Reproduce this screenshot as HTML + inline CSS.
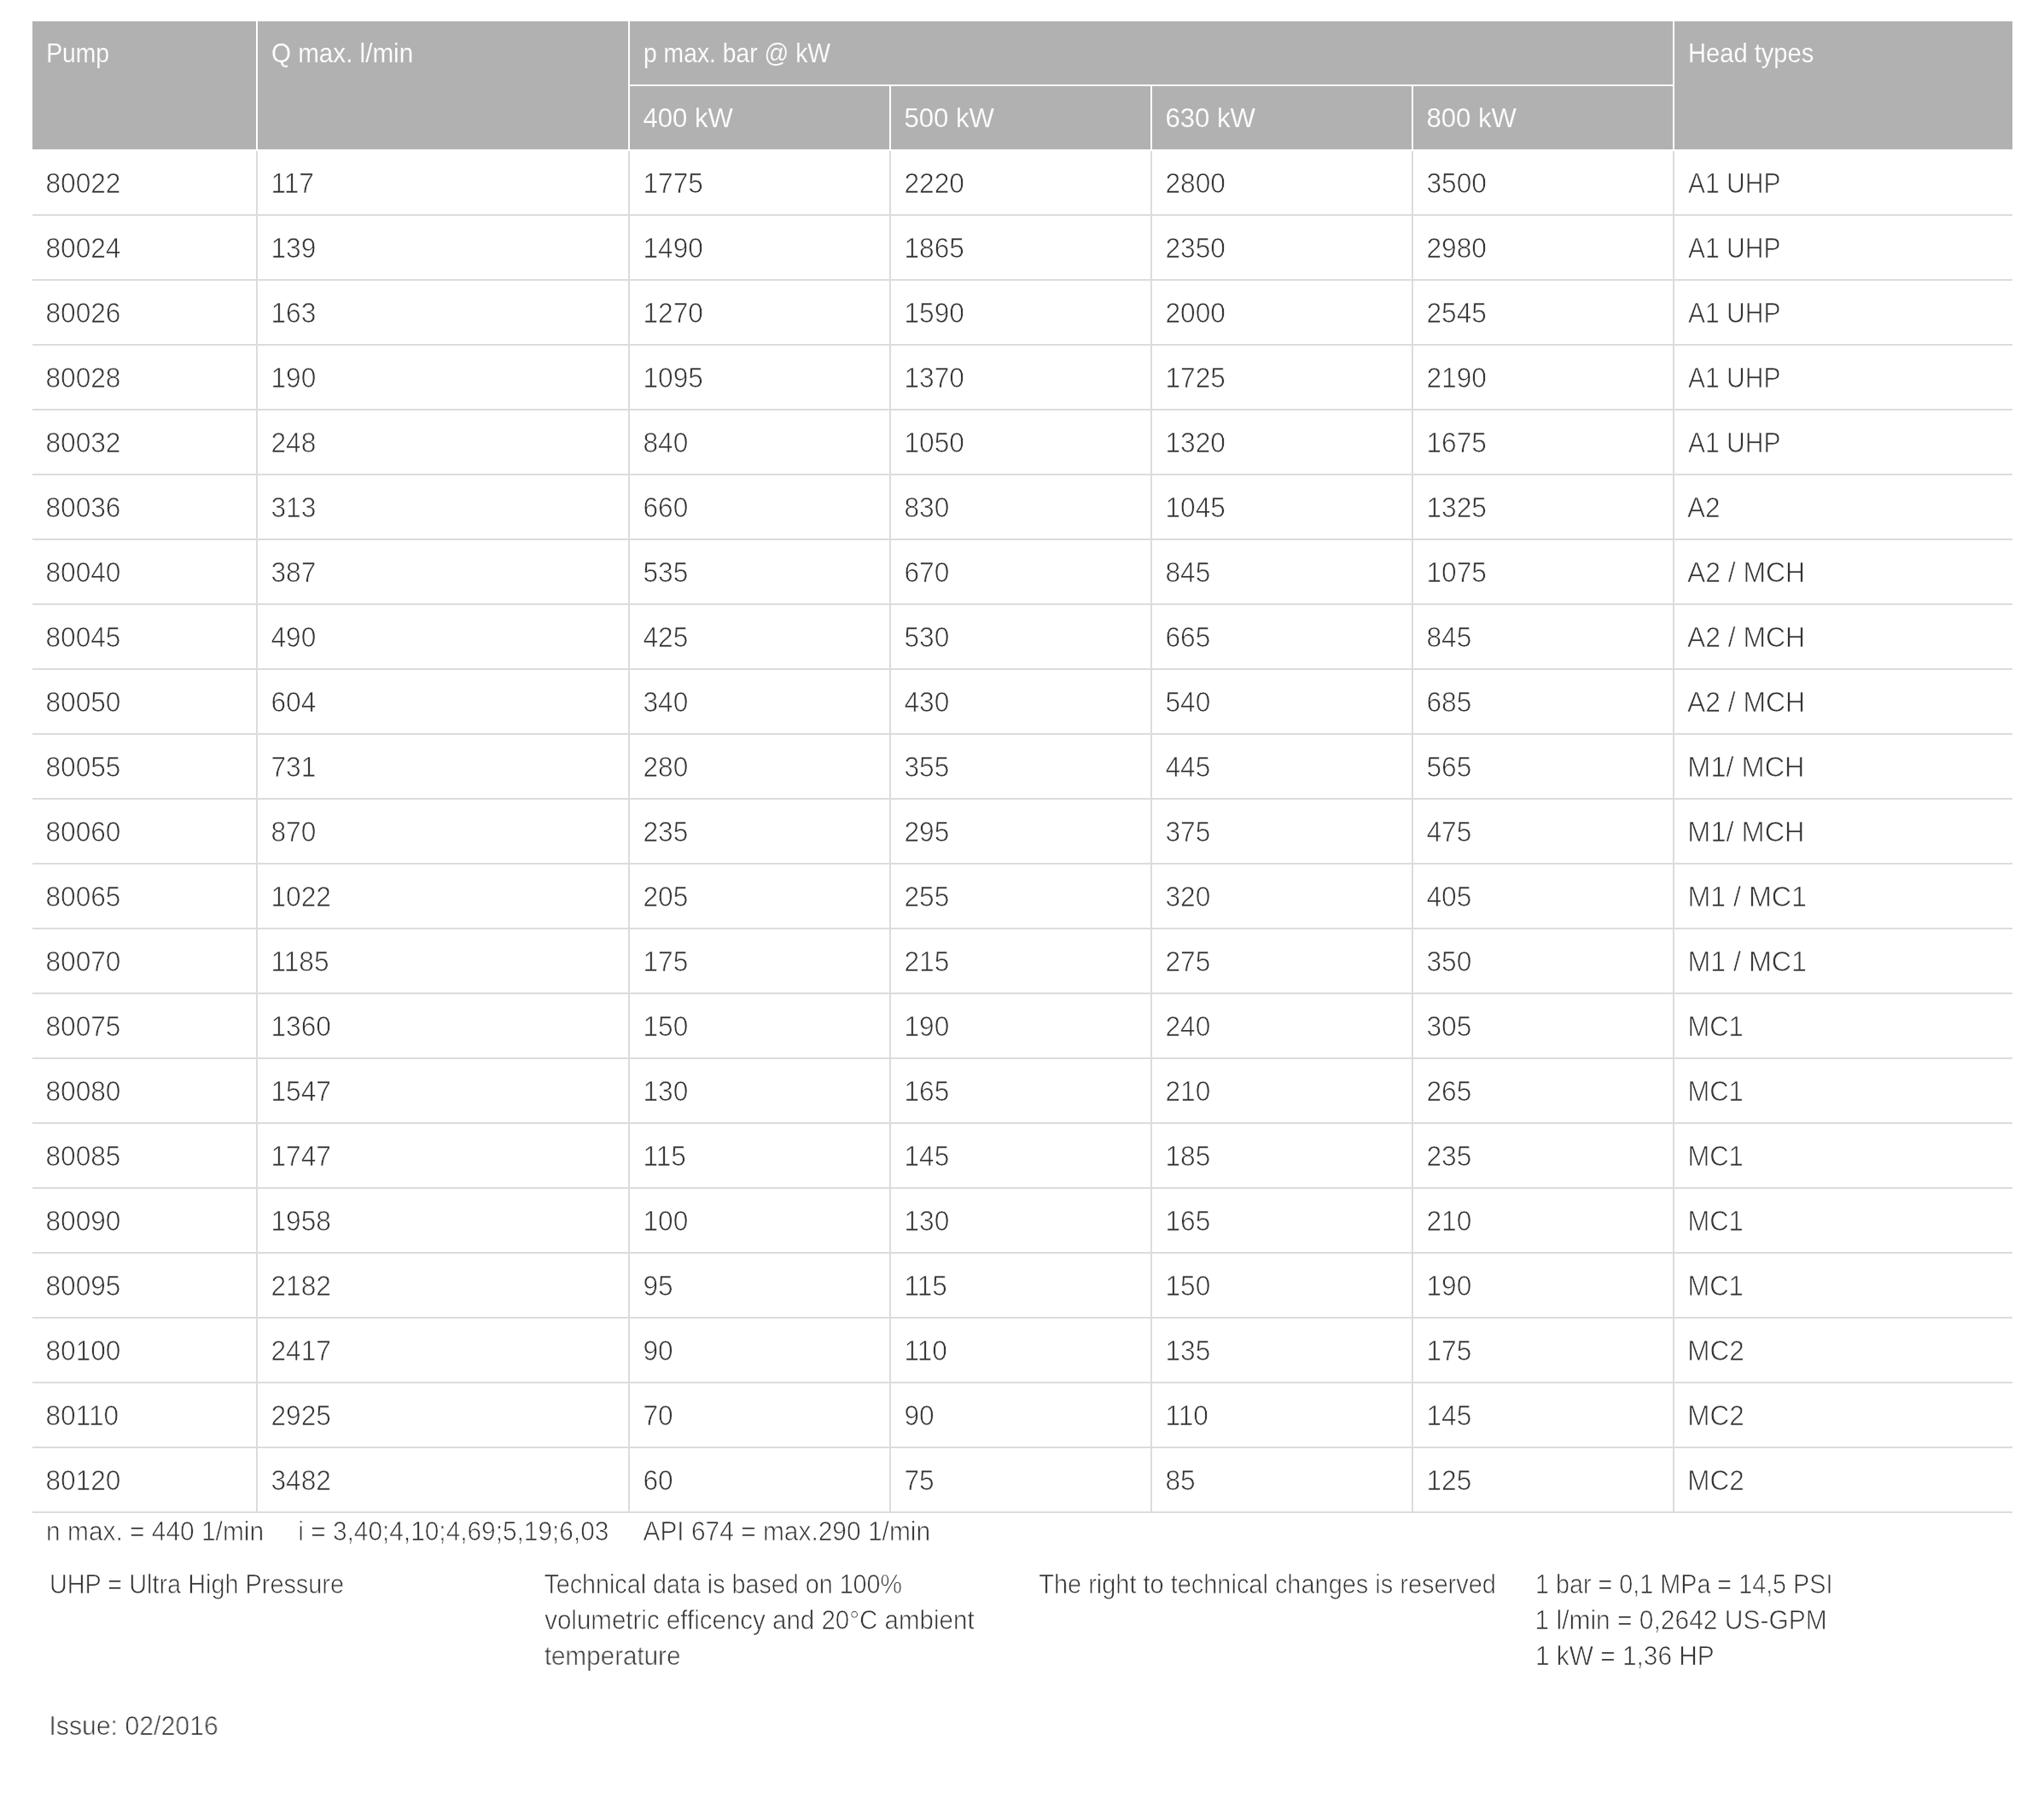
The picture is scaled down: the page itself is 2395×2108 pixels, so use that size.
<!DOCTYPE html>
<html><head><meta charset="utf-8"><title>Pump table</title>
<style>
*{box-sizing:border-box;margin:0;padding:0}
html,body{width:2395px;height:2108px;background:#fff}
body{font-family:"Liberation Sans",sans-serif;font-size:32.3px;line-height:42px;color:#333;position:relative;-webkit-text-stroke:0.7px #fff}
table{position:absolute;left:38px;top:25px;width:2320px;border-collapse:separate;border-spacing:0;table-layout:fixed}
th,td{height:76px;padding:17px 0 15px 16px;text-align:left;font-weight:normal;vertical-align:top;white-space:nowrap;overflow:hidden}
th{background:#b1b1b1;color:#fff;font-size:30.7px;border-right:2px solid #fff;border-bottom:2px solid #fff;-webkit-text-stroke:0.15px #b1b1b1}
td{border-right:2px solid #dcdcdc;border-bottom:2px solid #dcdcdc}
th.last,td.last{border-right:0}
#w{position:absolute;left:0;top:0;width:2395px;height:2108px;transform:translateZ(0);will-change:transform}
.t{display:inline-block;transform-origin:0 0;white-space:nowrap}
.f{position:absolute;white-space:nowrap;height:42px;font-size:31.0px}
</style></head>
<body>
<div id="w">
<table>
<colgroup><col style="width:264px"><col style="width:436px"><col style="width:306px"><col style="width:306px"><col style="width:306px"><col style="width:306px"><col style="width:396px"></colgroup>
<thead>
<tr><th rowspan="2"><span class="t" style="transform:translate(0.25px,0.00px) scaleX(0.9207)">Pump</span></th><th rowspan="2"><span class="t" style="transform:translate(-0.10px,0.00px) scaleX(0.9654)">Q max. l/min</span></th><th colspan="4"><span class="t" style="transform:translate(0.00px,0.00px) scaleX(0.9223)">p max. bar @ kW</span></th><th rowspan="2" class="last"><span class="t" style="transform:translate(0.11px,0.00px) scaleX(0.9475)">Head types</span></th></tr>
<tr><th><span class="t" style="transform:translate(-0.59px,0.00px) scaleX(1.0132)">400 kW</span></th><th><span class="t" style="transform:translate(-0.59px,0.00px) scaleX(1.0132)">500 kW</span></th><th><span class="t" style="transform:translate(-0.59px,0.00px) scaleX(1.0132)">630 kW</span></th><th><span class="t" style="transform:translate(-0.59px,0.00px) scaleX(1.0132)">800 kW</span></th></tr>
</thead>
<tbody>
<tr><td><span class="t" style="transform:translate(-0.57px,0.00px) scaleX(0.9804)">80022</span></td><td><span class="t" style="transform:translate(-0.57px,0.00px) scaleX(0.9804)">117</span></td><td><span class="t" style="transform:translate(-0.57px,0.00px) scaleX(0.9804)">1775</span></td><td><span class="t" style="transform:translate(-0.57px,0.00px) scaleX(0.9804)">2220</span></td><td><span class="t" style="transform:translate(-0.57px,0.00px) scaleX(0.9804)">2800</span></td><td><span class="t" style="transform:translate(-0.57px,0.00px) scaleX(0.9804)">3500</span></td><td class="last"><span class="t" style="transform:translate(0.08px,0.00px) scaleX(0.9283)">A1 UHP</span></td></tr>
<tr><td><span class="t" style="transform:translate(-0.57px,0.00px) scaleX(0.9804)">80024</span></td><td><span class="t" style="transform:translate(-0.57px,0.00px) scaleX(0.9804)">139</span></td><td><span class="t" style="transform:translate(-0.57px,0.00px) scaleX(0.9804)">1490</span></td><td><span class="t" style="transform:translate(-0.57px,0.00px) scaleX(0.9804)">1865</span></td><td><span class="t" style="transform:translate(-0.57px,0.00px) scaleX(0.9804)">2350</span></td><td><span class="t" style="transform:translate(-0.57px,0.00px) scaleX(0.9804)">2980</span></td><td class="last"><span class="t" style="transform:translate(0.08px,0.00px) scaleX(0.9283)">A1 UHP</span></td></tr>
<tr><td><span class="t" style="transform:translate(-0.57px,0.00px) scaleX(0.9804)">80026</span></td><td><span class="t" style="transform:translate(-0.57px,0.00px) scaleX(0.9804)">163</span></td><td><span class="t" style="transform:translate(-0.57px,0.00px) scaleX(0.9804)">1270</span></td><td><span class="t" style="transform:translate(-0.57px,0.00px) scaleX(0.9804)">1590</span></td><td><span class="t" style="transform:translate(-0.57px,0.00px) scaleX(0.9804)">2000</span></td><td><span class="t" style="transform:translate(-0.57px,0.00px) scaleX(0.9804)">2545</span></td><td class="last"><span class="t" style="transform:translate(0.08px,0.00px) scaleX(0.9283)">A1 UHP</span></td></tr>
<tr><td><span class="t" style="transform:translate(-0.57px,0.00px) scaleX(0.9804)">80028</span></td><td><span class="t" style="transform:translate(-0.57px,0.00px) scaleX(0.9804)">190</span></td><td><span class="t" style="transform:translate(-0.57px,0.00px) scaleX(0.9804)">1095</span></td><td><span class="t" style="transform:translate(-0.57px,0.00px) scaleX(0.9804)">1370</span></td><td><span class="t" style="transform:translate(-0.57px,0.00px) scaleX(0.9804)">1725</span></td><td><span class="t" style="transform:translate(-0.57px,0.00px) scaleX(0.9804)">2190</span></td><td class="last"><span class="t" style="transform:translate(0.08px,0.00px) scaleX(0.9283)">A1 UHP</span></td></tr>
<tr><td><span class="t" style="transform:translate(-0.57px,0.00px) scaleX(0.9804)">80032</span></td><td><span class="t" style="transform:translate(-0.57px,0.00px) scaleX(0.9804)">248</span></td><td><span class="t" style="transform:translate(-0.57px,0.00px) scaleX(0.9804)">840</span></td><td><span class="t" style="transform:translate(-0.57px,0.00px) scaleX(0.9804)">1050</span></td><td><span class="t" style="transform:translate(-0.57px,0.00px) scaleX(0.9804)">1320</span></td><td><span class="t" style="transform:translate(-0.57px,0.00px) scaleX(0.9804)">1675</span></td><td class="last"><span class="t" style="transform:translate(0.08px,0.00px) scaleX(0.9283)">A1 UHP</span></td></tr>
<tr><td><span class="t" style="transform:translate(-0.57px,0.00px) scaleX(0.9804)">80036</span></td><td><span class="t" style="transform:translate(-0.57px,0.00px) scaleX(0.9804)">313</span></td><td><span class="t" style="transform:translate(-0.57px,0.00px) scaleX(0.9804)">660</span></td><td><span class="t" style="transform:translate(-0.57px,0.00px) scaleX(0.9804)">830</span></td><td><span class="t" style="transform:translate(-0.57px,0.00px) scaleX(0.9804)">1045</span></td><td><span class="t" style="transform:translate(-0.57px,0.00px) scaleX(0.9804)">1325</span></td><td class="last"><span class="t" style="transform:translate(-1.03px,0.00px) scaleX(0.9765)">A2</span></td></tr>
<tr><td><span class="t" style="transform:translate(-0.57px,0.00px) scaleX(0.9804)">80040</span></td><td><span class="t" style="transform:translate(-0.57px,0.00px) scaleX(0.9804)">387</span></td><td><span class="t" style="transform:translate(-0.57px,0.00px) scaleX(0.9804)">535</span></td><td><span class="t" style="transform:translate(-0.57px,0.00px) scaleX(0.9804)">670</span></td><td><span class="t" style="transform:translate(-0.57px,0.00px) scaleX(0.9804)">845</span></td><td><span class="t" style="transform:translate(-0.57px,0.00px) scaleX(0.9804)">1075</span></td><td class="last"><span class="t" style="transform:translate(-1.07px,0.00px) scaleX(0.9874)">A2 / MCH</span></td></tr>
<tr><td><span class="t" style="transform:translate(-0.57px,0.00px) scaleX(0.9804)">80045</span></td><td><span class="t" style="transform:translate(-0.57px,0.00px) scaleX(0.9804)">490</span></td><td><span class="t" style="transform:translate(-0.57px,0.00px) scaleX(0.9804)">425</span></td><td><span class="t" style="transform:translate(-0.57px,0.00px) scaleX(0.9804)">530</span></td><td><span class="t" style="transform:translate(-0.57px,0.00px) scaleX(0.9804)">665</span></td><td><span class="t" style="transform:translate(-0.57px,0.00px) scaleX(0.9804)">845</span></td><td class="last"><span class="t" style="transform:translate(-1.07px,0.00px) scaleX(0.9874)">A2 / MCH</span></td></tr>
<tr><td><span class="t" style="transform:translate(-0.57px,0.00px) scaleX(0.9804)">80050</span></td><td><span class="t" style="transform:translate(-0.57px,0.00px) scaleX(0.9804)">604</span></td><td><span class="t" style="transform:translate(-0.57px,0.00px) scaleX(0.9804)">340</span></td><td><span class="t" style="transform:translate(-0.57px,0.00px) scaleX(0.9804)">430</span></td><td><span class="t" style="transform:translate(-0.57px,0.00px) scaleX(0.9804)">540</span></td><td><span class="t" style="transform:translate(-0.57px,0.00px) scaleX(0.9804)">685</span></td><td class="last"><span class="t" style="transform:translate(-1.07px,0.00px) scaleX(0.9874)">A2 / MCH</span></td></tr>
<tr><td><span class="t" style="transform:translate(-0.57px,0.00px) scaleX(0.9804)">80055</span></td><td><span class="t" style="transform:translate(-0.57px,0.00px) scaleX(0.9804)">731</span></td><td><span class="t" style="transform:translate(-0.57px,0.00px) scaleX(0.9804)">280</span></td><td><span class="t" style="transform:translate(-0.57px,0.00px) scaleX(0.9804)">355</span></td><td><span class="t" style="transform:translate(-0.57px,0.00px) scaleX(0.9804)">445</span></td><td><span class="t" style="transform:translate(-0.57px,0.00px) scaleX(0.9804)">565</span></td><td class="last"><span class="t" style="transform:translate(-0.64px,0.00px) scaleX(1.0062)">M1/ MCH</span></td></tr>
<tr><td><span class="t" style="transform:translate(-0.57px,0.00px) scaleX(0.9804)">80060</span></td><td><span class="t" style="transform:translate(-0.57px,0.00px) scaleX(0.9804)">870</span></td><td><span class="t" style="transform:translate(-0.57px,0.00px) scaleX(0.9804)">235</span></td><td><span class="t" style="transform:translate(-0.57px,0.00px) scaleX(0.9804)">295</span></td><td><span class="t" style="transform:translate(-0.57px,0.00px) scaleX(0.9804)">375</span></td><td><span class="t" style="transform:translate(-0.57px,0.00px) scaleX(0.9804)">475</span></td><td class="last"><span class="t" style="transform:translate(-0.64px,0.00px) scaleX(1.0062)">M1/ MCH</span></td></tr>
<tr><td><span class="t" style="transform:translate(-0.57px,0.00px) scaleX(0.9804)">80065</span></td><td><span class="t" style="transform:translate(-0.57px,0.00px) scaleX(0.9804)">1022</span></td><td><span class="t" style="transform:translate(-0.57px,0.00px) scaleX(0.9804)">205</span></td><td><span class="t" style="transform:translate(-0.57px,0.00px) scaleX(0.9804)">255</span></td><td><span class="t" style="transform:translate(-0.57px,0.00px) scaleX(0.9804)">320</span></td><td><span class="t" style="transform:translate(-0.57px,0.00px) scaleX(0.9804)">405</span></td><td class="last"><span class="t" style="transform:translate(-0.62px,0.00px) scaleX(0.9976)">M1 / MC1</span></td></tr>
<tr><td><span class="t" style="transform:translate(-0.57px,0.00px) scaleX(0.9804)">80070</span></td><td><span class="t" style="transform:translate(-0.57px,0.00px) scaleX(0.9804)">1185</span></td><td><span class="t" style="transform:translate(-0.57px,0.00px) scaleX(0.9804)">175</span></td><td><span class="t" style="transform:translate(-0.57px,0.00px) scaleX(0.9804)">215</span></td><td><span class="t" style="transform:translate(-0.57px,0.00px) scaleX(0.9804)">275</span></td><td><span class="t" style="transform:translate(-0.57px,0.00px) scaleX(0.9804)">350</span></td><td class="last"><span class="t" style="transform:translate(-0.62px,0.00px) scaleX(0.9976)">M1 / MC1</span></td></tr>
<tr><td><span class="t" style="transform:translate(-0.57px,0.00px) scaleX(0.9804)">80075</span></td><td><span class="t" style="transform:translate(-0.57px,0.00px) scaleX(0.9804)">1360</span></td><td><span class="t" style="transform:translate(-0.57px,0.00px) scaleX(0.9804)">150</span></td><td><span class="t" style="transform:translate(-0.57px,0.00px) scaleX(0.9804)">190</span></td><td><span class="t" style="transform:translate(-0.57px,0.00px) scaleX(0.9804)">240</span></td><td><span class="t" style="transform:translate(-0.57px,0.00px) scaleX(0.9804)">305</span></td><td class="last"><span class="t" style="transform:translate(-0.49px,0.00px) scaleX(0.9578)">MC1</span></td></tr>
<tr><td><span class="t" style="transform:translate(-0.57px,0.00px) scaleX(0.9804)">80080</span></td><td><span class="t" style="transform:translate(-0.57px,0.00px) scaleX(0.9804)">1547</span></td><td><span class="t" style="transform:translate(-0.57px,0.00px) scaleX(0.9804)">130</span></td><td><span class="t" style="transform:translate(-0.57px,0.00px) scaleX(0.9804)">165</span></td><td><span class="t" style="transform:translate(-0.57px,0.00px) scaleX(0.9804)">210</span></td><td><span class="t" style="transform:translate(-0.57px,0.00px) scaleX(0.9804)">265</span></td><td class="last"><span class="t" style="transform:translate(-0.49px,0.00px) scaleX(0.9578)">MC1</span></td></tr>
<tr><td><span class="t" style="transform:translate(-0.57px,0.00px) scaleX(0.9804)">80085</span></td><td><span class="t" style="transform:translate(-0.57px,0.00px) scaleX(0.9804)">1747</span></td><td><span class="t" style="transform:translate(-0.57px,0.00px) scaleX(0.9804)">115</span></td><td><span class="t" style="transform:translate(-0.57px,0.00px) scaleX(0.9804)">145</span></td><td><span class="t" style="transform:translate(-0.57px,0.00px) scaleX(0.9804)">185</span></td><td><span class="t" style="transform:translate(-0.57px,0.00px) scaleX(0.9804)">235</span></td><td class="last"><span class="t" style="transform:translate(-0.49px,0.00px) scaleX(0.9578)">MC1</span></td></tr>
<tr><td><span class="t" style="transform:translate(-0.57px,0.00px) scaleX(0.9804)">80090</span></td><td><span class="t" style="transform:translate(-0.57px,0.00px) scaleX(0.9804)">1958</span></td><td><span class="t" style="transform:translate(-0.57px,0.00px) scaleX(0.9804)">100</span></td><td><span class="t" style="transform:translate(-0.57px,0.00px) scaleX(0.9804)">130</span></td><td><span class="t" style="transform:translate(-0.57px,0.00px) scaleX(0.9804)">165</span></td><td><span class="t" style="transform:translate(-0.57px,0.00px) scaleX(0.9804)">210</span></td><td class="last"><span class="t" style="transform:translate(-0.49px,0.00px) scaleX(0.9578)">MC1</span></td></tr>
<tr><td><span class="t" style="transform:translate(-0.57px,0.00px) scaleX(0.9804)">80095</span></td><td><span class="t" style="transform:translate(-0.57px,0.00px) scaleX(0.9804)">2182</span></td><td><span class="t" style="transform:translate(-0.57px,0.00px) scaleX(0.9804)">95</span></td><td><span class="t" style="transform:translate(-0.57px,0.00px) scaleX(0.9804)">115</span></td><td><span class="t" style="transform:translate(-0.57px,0.00px) scaleX(0.9804)">150</span></td><td><span class="t" style="transform:translate(-0.57px,0.00px) scaleX(0.9804)">190</span></td><td class="last"><span class="t" style="transform:translate(-0.49px,0.00px) scaleX(0.9578)">MC1</span></td></tr>
<tr><td><span class="t" style="transform:translate(-0.57px,0.00px) scaleX(0.9804)">80100</span></td><td><span class="t" style="transform:translate(-0.57px,0.00px) scaleX(0.9804)">2417</span></td><td><span class="t" style="transform:translate(-0.57px,0.00px) scaleX(0.9804)">90</span></td><td><span class="t" style="transform:translate(-0.57px,0.00px) scaleX(0.9804)">110</span></td><td><span class="t" style="transform:translate(-0.57px,0.00px) scaleX(0.9804)">135</span></td><td><span class="t" style="transform:translate(-0.57px,0.00px) scaleX(0.9804)">175</span></td><td class="last"><span class="t" style="transform:translate(-0.70px,0.00px) scaleX(0.9724)">MC2</span></td></tr>
<tr><td><span class="t" style="transform:translate(-0.57px,0.00px) scaleX(0.9804)">80110</span></td><td><span class="t" style="transform:translate(-0.57px,0.00px) scaleX(0.9804)">2925</span></td><td><span class="t" style="transform:translate(-0.57px,0.00px) scaleX(0.9804)">70</span></td><td><span class="t" style="transform:translate(-0.57px,0.00px) scaleX(0.9804)">90</span></td><td><span class="t" style="transform:translate(-0.57px,0.00px) scaleX(0.9804)">110</span></td><td><span class="t" style="transform:translate(-0.57px,0.00px) scaleX(0.9804)">145</span></td><td class="last"><span class="t" style="transform:translate(-0.70px,0.00px) scaleX(0.9724)">MC2</span></td></tr>
<tr><td><span class="t" style="transform:translate(-0.57px,0.00px) scaleX(0.9804)">80120</span></td><td><span class="t" style="transform:translate(-0.57px,0.00px) scaleX(0.9804)">3482</span></td><td><span class="t" style="transform:translate(-0.57px,0.00px) scaleX(0.9804)">60</span></td><td><span class="t" style="transform:translate(-0.57px,0.00px) scaleX(0.9804)">75</span></td><td><span class="t" style="transform:translate(-0.57px,0.00px) scaleX(0.9804)">85</span></td><td><span class="t" style="transform:translate(-0.57px,0.00px) scaleX(0.9804)">125</span></td><td class="last"><span class="t" style="transform:translate(-0.70px,0.00px) scaleX(0.9724)">MC2</span></td></tr>
</tbody>
</table>
<div class="f" style="left:54px;top:1774px"><span class="t" style="transform:translate(0.12px,0.00px) scaleX(0.9638)">n max. = 440 1/min</span></div>
<div class="f" style="left:350px;top:1774px"><span class="t" style="transform:translate(-0.73px,0.00px) scaleX(0.9625)">i = 3,40;4,10;4,69;5,19;6,03</span></div>
<div class="f" style="left:754px;top:1774px"><span class="t" style="transform:translate(-0.56px,0.00px) scaleX(0.9647)">API 674 = max.290 1/min</span></div>
<div class="f" style="left:58px;top:1836px"><span class="t" style="transform:translate(-0.06px,0.00px) scaleX(0.9308)">UHP = Ultra High Pressure</span></div>
<div class="f" style="left:638px;top:1836px"><span class="t" style="transform:translate(-0.59px,0.00px) scaleX(0.9258)">Technical data is based on 100%</span></div>
<div class="f" style="left:638px;top:1878px"><span class="t" style="transform:translate(0.20px,0.00px) scaleX(0.9520)">volumetric efficency and 20°C ambient</span></div>
<div class="f" style="left:638px;top:1920px"><span class="t" style="transform:translate(-0.18px,0.00px) scaleX(0.9549)">temperature</span></div>
<div class="f" style="left:1218px;top:1836px"><span class="t" style="transform:translate(-0.70px,0.00px) scaleX(0.9333)">The right to technical changes is reserved</span></div>
<div class="f" style="left:1798px;top:1836px"><span class="t" style="transform:translate(1.00px,0.00px) scaleX(0.9275)">1 bar = 0,1 MPa = 14,5 PSI</span></div>
<div class="f" style="left:1798px;top:1878px"><span class="t" style="transform:translate(0.52px,0.00px) scaleX(0.9662)">1 l/min = 0,2642 US-GPM</span></div>
<div class="f" style="left:1798px;top:1920px"><span class="t" style="transform:translate(0.97px,0.00px) scaleX(0.9625)">1 kW = 1,36 HP</span></div>
<div class="f" style="left:58px;top:2002px"><span class="t" style="transform:translate(-0.48px,0.00px) scaleX(0.9741)">Issue: 02/2016</span></div>
</div>
</body></html>
